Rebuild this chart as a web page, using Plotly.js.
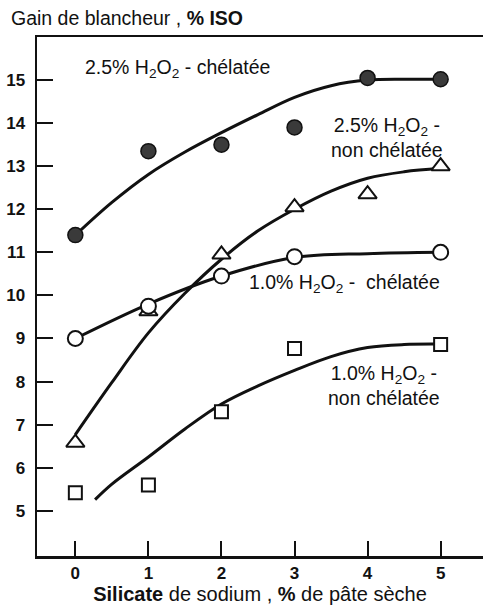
<!DOCTYPE html>
<html><head><meta charset="utf-8">
<script src="https://cdn.plot.ly/plotly-3.0.1.min.js"></script>
<style>html,body{margin:0;padding:0;background:#fff}#c{width:483px;height:608px}</style>
</head><body><div id="c"></div>
<script>
// Measured points
const xPts = [0, 1, 2, 3, 4, 5];
const chel25 = [11.4, 13.35, 13.5, 13.9, 15.05, 15.02];
const nonChel25 = [6.58, 9.63, 10.95, 12.05, 12.35, 13.0];
const xChel10 = [0, 1, 2, 3, 5];
const chel10 = [9.0, 9.75, 10.45, 10.9, 11.0];
const xNonChel10 = [0, 1, 2, 3, 5];
const nonChel10 = [5.42, 5.6, 7.3, 8.77, 8.86];

// Fitted curves
const xFit = [0, 0.5, 1, 1.5, 2, 2.5, 3, 3.5, 4, 4.5, 5];
const fitChel25 = [11.4, 12.16, 12.81, 13.33, 13.78, 14.2, 14.6, 14.87, 15.0, 15.02, 15.02];
const fitNonChel25 = [6.77, 7.98, 9.13, 10.05, 10.84, 11.5, 12.0, 12.42, 12.72, 12.87, 12.95];
const xFitChel10 = [0, 1, 2, 3, 4, 5];
const fitChel10 = [9.0, 9.8, 10.45, 10.88, 10.97, 11.0];
const xFitNonChel10 = [0.27, 0.5, 1, 1.5, 2, 2.5, 3, 3.5, 4, 4.5, 5];
const fitNonChel10 = [5.26, 5.62, 6.25, 6.9, 7.48, 7.9, 8.26, 8.58, 8.79, 8.86, 8.87];

const yTicks = [5, 6, 7, 8, 9, 10, 11, 12, 13, 14, 15];
const xTicks = [0, 1, 2, 3, 4, 5];

const lineStyle = {color: '#111', width: 3, shape: 'spline', smoothing: 1};
const traces = [
  {x: xFit, y: fitChel25, mode: 'lines', line: lineStyle},
  {x: xFit, y: fitNonChel25, mode: 'lines', line: lineStyle},
  {x: xFitChel10, y: fitChel10, mode: 'lines', line: lineStyle},
  {x: xFitNonChel10, y: fitNonChel10, mode: 'lines', line: lineStyle},
  {x: xPts, y: chel25, mode: 'markers', marker: {symbol: 'circle', size: 15, color: '#3a3a3a', line: {color: '#111', width: 1.5}}},
  {x: xPts, y: nonChel25, mode: 'markers', marker: {symbol: 'triangle-up', size: 16, color: '#fff', line: {color: '#111', width: 2}}},
  {x: xChel10, y: chel10, mode: 'markers', marker: {symbol: 'circle', size: 15, color: '#fff', line: {color: '#111', width: 2}}},
  {x: xNonChel10, y: nonChel10, mode: 'markers', marker: {symbol: 'square', size: 13, color: '#fff', line: {color: '#111', width: 2}}}
];

const F = 'Liberation Sans, Arial, Helvetica, sans-serif';
const annFont = {family: F, size: 19.5, color: '#111'};
const layout = {
  width: 483, height: 608,
  margin: {l: 37, r: 0, t: 37, b: 52},
  paper_bgcolor: '#fff', plot_bgcolor: '#fff',
  showlegend: false,
  font: {family: F, color: '#111'},
  xaxis: {
    range: [-0.525, 5.58], tickvals: xTicks, ticktext: xTicks.map(v => '<b>' + v + '</b>'),
    ticks: 'inside', ticklen: 15, tickwidth: 2, tickcolor: '#111',
    showline: true, linewidth: 2.5, linecolor: '#111', mirror: true,
    showgrid: false, zeroline: false,
    tickfont: {family: F, size: 17, color: '#111'},
    title: {text: '<b>Silicate</b> de sodium , <b>%</b> de pâte sèche', font: {family: F, size: 20, color: '#111'}, standoff: 0}
  },
  yaxis: {
    range: [3.95, 16], tickvals: yTicks, ticktext: yTicks.map(v => '<b>' + v + '</b>'),
    ticks: 'inside', ticklen: 16, tickwidth: 2, tickcolor: '#111',
    showline: true, linewidth: 2.5, linecolor: '#111',
    showgrid: false, zeroline: false, ticklabelstandoff: 6,
    tickfont: {family: F, size: 17, color: '#111'}
  },
  annotations: [
    {xref: 'paper', yref: 'paper', x: -0.062, y: 1.0366, xanchor: 'left', yanchor: 'middle', showarrow: false,
     text: 'Gain de blancheur , <b>% ISO</b>', font: {family: F, size: 19.5, color: '#111'}},
    {x: 0.1, y: 15.26, xanchor: 'left', yanchor: 'middle', showarrow: false,
     text: '2.5% H<sub>2</sub>O<sub>2</sub> - chélatée', font: annFont},
    {x: 4.27, y: 13.66, xanchor: 'center', yanchor: 'middle', showarrow: false, align: 'center',
     text: '2.5% H<sub>2</sub>O<sub>2</sub> -<br>non chélatée', font: annFont},
    {x: 3.68, y: 10.28, xanchor: 'center', yanchor: 'middle', showarrow: false,
     text: '1.0% H<sub>2</sub>O<sub>2</sub> -  chélatée', font: annFont},
    {x: 4.23, y: 7.9, xanchor: 'center', yanchor: 'middle', showarrow: false, align: 'center',
     text: '1.0% H<sub>2</sub>O<sub>2</sub> -<br>non chélatée', font: annFont}
  ]
};
Plotly.newPlot('c', traces, layout, {staticPlot: true, displayModeBar: false});
</script></body></html>
